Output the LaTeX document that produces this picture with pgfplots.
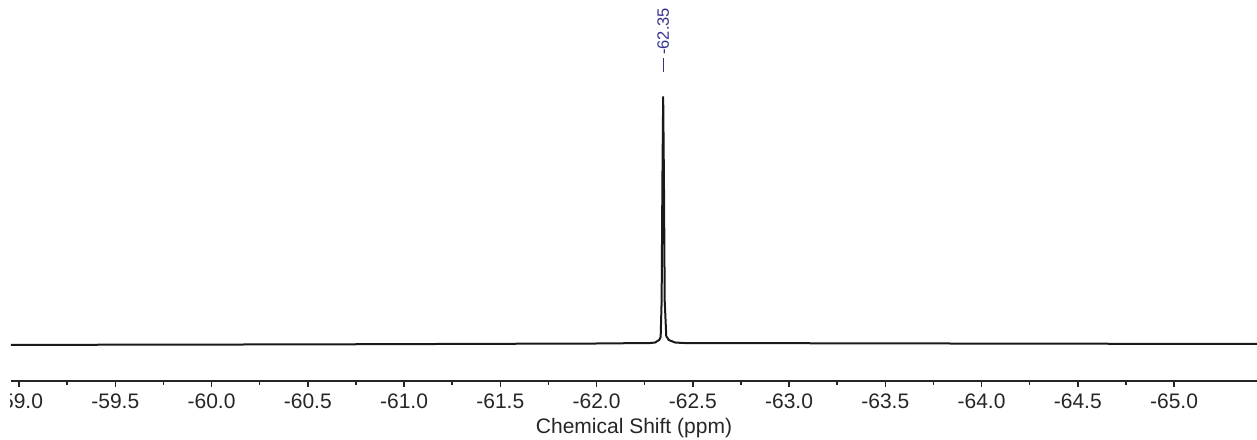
\documentclass[border=0pt]{standalone}
\usepackage{pgfplots}
\pgfplotsset{compat=1.18}
\usepackage{fontspec}
\setmainfont{Liberation Sans}
\definecolor{peakblue}{rgb}{0.20,0.20,0.55}
\begin{document}
\begin{tikzpicture}
\begin{axis}[
  at={(11bp,59bp)}, anchor=south west,
  scale only axis, width=1246bp, height=381bp,
  x dir=reverse,
  xmin=-65.431, xmax=-58.958,
  ymin=0, ymax=381,
  axis x line=bottom, axis y line=none,
  axis line style={-, line width=1.5bp, black!85},
  xtick={-65,-64.5,...,-59},
  minor x tick num=1,
  tick align=outside,
  major tick length=6bp, minor tick length=4bp,
  every tick/.style={black!85, line width=1.5bp},
  xticklabel style={font=\fontsize{21bp}{25bp}\selectfont, anchor=base, inner sep=0pt, yshift=-21bp, text=black!85},
  /pgf/number format/.cd, fixed, fixed zerofill, precision=1, assume math mode=true,
  /pgfplots/.cd,
  xticklabel={\pgfmathprintnumber[assume math mode=true]{\tick}},
  xlabel={Chemical Shift (ppm)},
  every axis x label/.style={at={(axis description cs:0.5,0)}, anchor=base, yshift=-52bp, font=\fontsize{21bp}{25bp}\selectfont, text=black!85},
  clip=false,
]
\addplot[line width=2bp, black!90, line join=round] coordinates {
  (-58.958, 36) (-59.5, 36.3) (-60.5, 36.6) (-61.5, 37.2) (-62.0, 37.5)
  (-62.28, 38) (-62.304, 38.5) (-62.325, 41) (-62.333, 44) (-62.338, 80)
  (-62.342, 200) (-62.346, 284) (-62.350, 200) (-62.354, 80) (-62.362, 45)
  (-62.375, 41) (-62.408, 38.5) (-62.45, 38) (-63.5, 37.6) (-64.5, 37.3) (-65.431, 37)
};
\draw[peakblue, line width=1bp] (axis cs:-62.346,309) -- (axis cs:-62.346,323);
\node[peakblue, rotate=90, anchor=west, inner sep=0pt, font=\fontsize{16.5bp}{19bp}\selectfont] at (axis cs:-62.346,326) {-62.35};
\end{axis}
\fill[white] (0,20bp) rectangle (10bp,52bp);
\pgfresetboundingbox
\useasboundingbox (0,0) rectangle (1257bp,440bp);
\end{tikzpicture}
\end{document}
